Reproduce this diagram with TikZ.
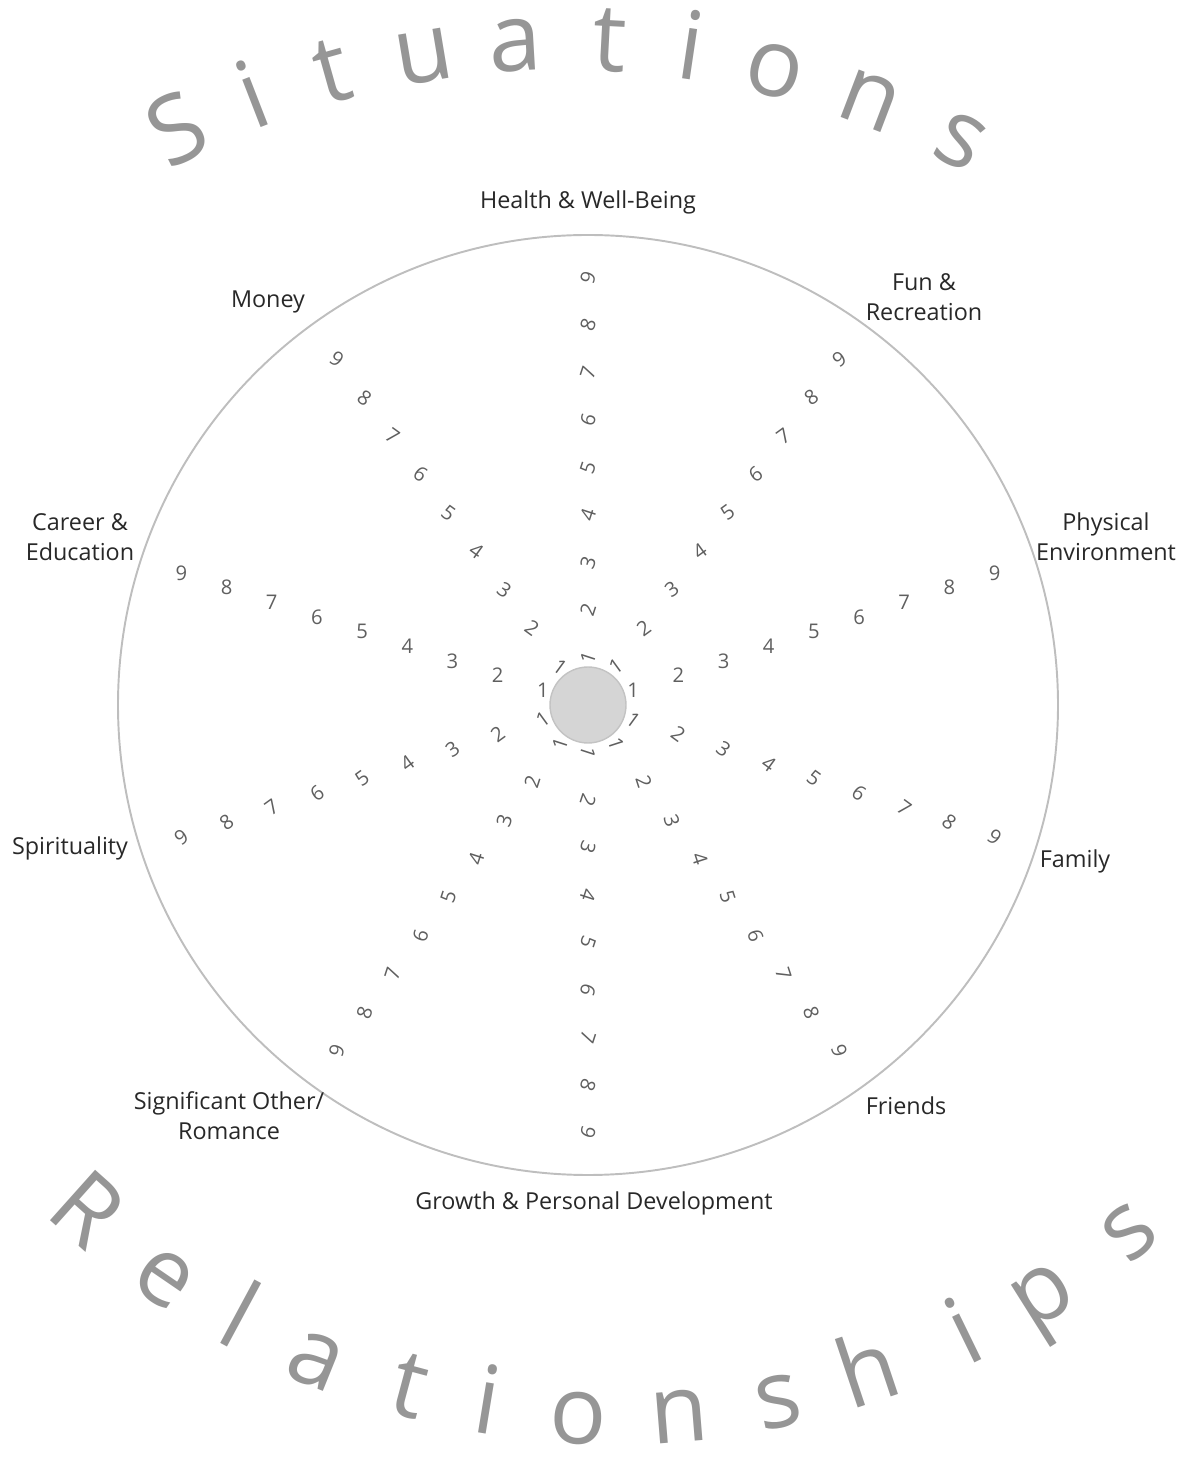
\documentclass[tikz,border=0pt]{standalone}
\usepackage{fontspec}
\setmainfont{Open Sans}
\usetikzlibrary{positioning}
\definecolor{arcgrey}{RGB}{150,150,150}
\definecolor{labelgrey}{RGB}{40,40,40}
\definecolor{digitgrey}{RGB}{95,95,95}
\definecolor{rimgrey}{RGB}{190,190,190}
\definecolor{hubgrey}{RGB}{213,213,213}
\definecolor{hubrim}{RGB}{195,195,195}
\tikzset{
  area/.style={font=\fontsize{13.3}{17}\selectfont, text=labelgrey, align=center, inner sep=0pt},
  score/.style={font=\fontsize{11.5}{12}\selectfont, text=digitgrey, inner sep=0pt},
  bigletter/.style={font=\fontsize{54}{60}\selectfont, text=arcgrey, inner sep=0pt, anchor=base},
}
\begin{document}
\begin{tikzpicture}[x=0.02cm,y=0.02cm]
\useasboundingbox (0,0) rectangle (1186,1465);
% wheel
\coordinate (hub) at (588,760);
\draw[rimgrey, line width=1.1pt] (hub) circle (470);
\node[circle, fill=hubgrey, draw=hubrim, line width=0.8pt, minimum size=1.52cm] (core) at (hub) {};
\begin{scope}[shift={(588,760)}]
\foreach \a [count=\i] in {90,54,18,-18,-54,-90}
  \foreach \k in {1,...,9}
    \node[score, rotate=\a-18] (r\i-\k) at (\a:47.5*\k) {\k};
\foreach \a [count=\i] in {126,162,198,234}
  \foreach \k in {1,...,9}
    \node[score, rotate=\a-162] (l\i-\k) at (\a:47.5*\k) {\k};
\end{scope}
% areas
\node[area] (health) at (588,1263) {Health \& Well-Being};
\node[area] (fun) at (924,1168) {Fun \&\\Recreation};
\node[area] (physical) at (1106,928) {Physical\\Environment};
\node[area] (family) at (1075,604) {Family};
\node[area] (friends) at (906,359) {Friends};
\node[area] (growth) at (594,262) {Growth \& Personal Development};
\node[area] (romance) at (229,349) {Significant Other/\\Romance};
\node[area] (spirit) at (70,617) {Spirituality};
\node[area] (career) at (80,928) {Career \&\\Education};
\node[area] (money) at (268,1163) {Money};
% arc titles
\begin{scope}[shift={(565,565)}]
\foreach \ch/\ang [count=\i] in {S/116.7,i/111.2,t/105.7,u/99.5,a/93.3,t/87.0,i/81.6,o/75.8,n/69.1,s/62.5}
  \node[bigletter, rotate=\ang-90] (sit\i) at (\ang:830) {\ch};
\end{scope}
\begin{scope}[shift={(615.7,846.6)}]
\foreach \ch/\ang [count=\i] in {R/228.2,e/235.6,l/241.7,a/248.0,t/255.0,i/260.7,o/267.3,n/274.6,s/281.7,h/288.5,i/296.0,p/302.2,s/309.9}
  \node[bigletter, rotate=\ang+90] (rel\i) at (\ang:826) {\ch};
\end{scope}
\end{tikzpicture}
\end{document}
